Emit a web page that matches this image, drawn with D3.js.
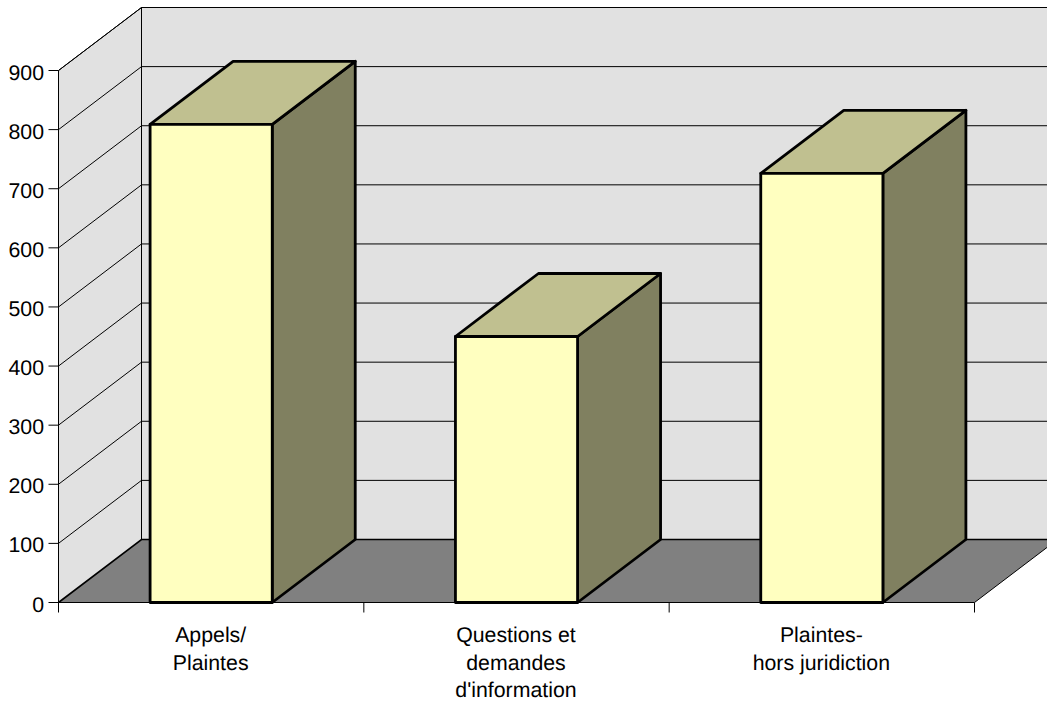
<!DOCTYPE html>
<html>
<head>
<meta charset="utf-8">
<script src="https://cdn.jsdelivr.net/npm/d3@7"></script>
<style>
  html, body { margin: 0; padding: 0; background: #fff; overflow: hidden; }
  svg { display: block; }
  text { font-family: "Liberation Sans", Arial, sans-serif; fill: #000; text-rendering: geometricPrecision; }
</style>
</head>
<body>
<svg id="chart" width="1047" height="702"></svg>
<script>
const categories = ["Appels/\nPlaintes", "Questions et\ndemandes\nd'information", "Plaintes-\nhors juridiction"];
const values = [809, 450, 726];
const tickValues = [0, 100, 200, 300, 400, 500, 600, 700, 800, 900];

const width = 1047, height = 702;
const depthX = 83, depthY = -63;
const fontSize = 21.3;

const svg = d3.select("#chart");
const x = d3.scaleBand().domain(categories).range([58.5, 974.5]).paddingInner(0.6).paddingOuter(0.3);
const y = d3.scaleLinear().domain([0, 900]).range([602.5, 70.5]);
const line = d3.line();
const poly = pts => line(pts) + "Z";

// Back wall, side wall and floor of the 3D box
const x0 = 58.5, x1 = 974.5, y0 = y(0), yT = y(900);
svg.append("path")
  .attr("d", poly([[x0 + depthX, yT + depthY], [width, yT + depthY], [width, y0 + depthY], [x0 + depthX, y0 + depthY]]))
  .attr("fill", "#e1e1e1");
svg.append("path")
  .attr("d", poly([[x0, yT], [x0 + depthX, yT + depthY], [x0 + depthX, y0 + depthY], [x0, y0]]))
  .attr("fill", "#e1e1e1");
svg.append("path")
  .attr("d", poly([[x0, y0], [x0 + depthX, y0 + depthY], [x1 + depthX, y0 + depthY], [x1, y0]]))
  .attr("fill", "#808080");

// Gridlines wrap from the left wall onto the back wall
svg.append("g").selectAll("path")
  .data(tickValues.filter(d => d > 0))
  .join("path")
  .attr("d", d => line([[x0, y(d)], [x0 + depthX, y(d) + depthY], [x1 + depthX, y(d) + depthY]]))
  .attr("fill", "none").attr("stroke", "#000").attr("stroke-width", 1);

// Wall edges and outer frame
const frame = svg.append("g").attr("fill", "none").attr("stroke", "#000");
frame.append("path").attr("d", line([[x0 + depthX, y0 + depthY], [x0 + depthX, yT + depthY], [width, yT + depthY]])).attr("stroke-width", 1);
frame.append("path").attr("d", line([[x0, y0], [x0 + depthX, y0 + depthY], [x1 + depthX, y0 + depthY]])).attr("stroke-width", 1.6);
frame.append("path").attr("d", line([[x0, y0], [x0, yT], [x0 + depthX, yT + depthY]])).attr("stroke-width", 1);
frame.append("path").attr("d", line([[x0, y0], [x1, y0], [x1 + depthX, y0 + depthY]])).attr("stroke-width", 1);

// Value axis ticks and labels
const yAxis = svg.append("g");
yAxis.selectAll("line").data(tickValues).join("line")
  .attr("x1", x0 - 10).attr("x2", x0)
  .attr("y1", d => y(d)).attr("y2", d => y(d))
  .attr("stroke", "#000");
yAxis.selectAll("text").data(tickValues).join("text")
  .attr("x", 44).attr("y", d => y(d) + 9)
  .attr("text-anchor", "end").attr("font-size", fontSize)
  .text(d => d);

// Category axis ticks sit on band boundaries
const step = x.step();
svg.append("g").selectAll("line")
  .data(d3.range(categories.length + 1))
  .join("line")
  .attr("x1", i => x0 + i * step).attr("x2", i => x0 + i * step)
  .attr("y1", y0).attr("y2", y0 + 10)
  .attr("stroke", "#000");

// Category labels, one text line per row
const catLabels = svg.append("g").selectAll("text").data(categories).join("text")
  .attr("text-anchor", "middle").attr("font-size", fontSize);
catLabels.selectAll("tspan").data(d => d.split("\n").map(t => ({ t, cat: d }))).join("tspan")
  .attr("x", d => x(d.cat) + x.bandwidth() / 2 - 0.5)
  .attr("y", (d, i) => 642 + i * 27.7)
  .text(d => d.t);

// Bars: side and top faces first, then the front
const bars = svg.append("g").selectAll("g")
  .data(categories.map((c, i) => ({ c, v: values[i] })))
  .join("g")
  .attr("stroke", "#000").attr("stroke-width", 2.8).attr("stroke-linejoin", "round");
bars.append("path").attr("fill", "#808060").attr("d", d => {
  const r = x(d.c) + x.bandwidth();
  return poly([[r, y(d.v)], [r + depthX, y(d.v) + depthY], [r + depthX, y0 + depthY], [r, y0]]);
});
bars.append("path").attr("fill", "#c0c090").attr("d", d => {
  const l = x(d.c), r = l + x.bandwidth();
  return poly([[l, y(d.v)], [l + depthX, y(d.v) + depthY], [r + depthX, y(d.v) + depthY], [r, y(d.v)]]);
});
bars.append("path").attr("fill", "#ffffc0").attr("d", d => {
  const l = x(d.c), r = l + x.bandwidth();
  return poly([[l, y(d.v)], [r, y(d.v)], [r, y0], [l, y0]]);
});
</script>
</body>
</html>
